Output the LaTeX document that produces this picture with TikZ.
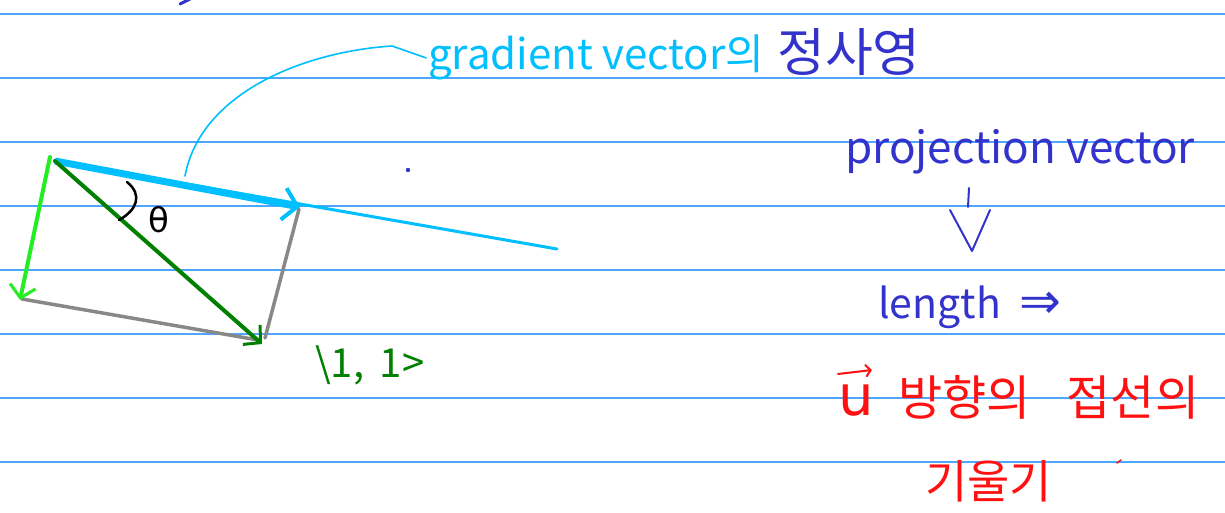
\documentclass[tikz,border=0pt]{standalone}
\usepackage{fontspec}
\setmainfont{Noto Sans CJK KR}
\newfontfamily\dvs{DejaVu Sans}
\usetikzlibrary{arrows.meta}
\definecolor{ruleblue}{HTML}{4DA6FF}
\definecolor{skyc}{HTML}{00BFFF}
\definecolor{lgreen}{HTML}{22EE22}
\definecolor{dgreen}{HTML}{008000}
\definecolor{vgray}{HTML}{888888}
\definecolor{inkblue}{HTML}{3333CC}
\definecolor{inkred}{HTML}{FF1111}
\tikzset{
  ruleline/.style={ruleblue, line width=1.4pt},
  vecline/.style={line width=4pt, line cap=round},
  barb/.style={-{Straight Barb[length=12pt,width=26pt,line width=3pt]}},
  hand/.style={inner sep=0pt, anchor=base west},
}
\begin{document}
\begin{tikzpicture}[x=1pt,y=-1pt]
\useasboundingbox (0,0) rectangle (1225,513);
\fill[white] (0,0) rectangle (1225,513);
\foreach \y in {14,78,...,462} \draw[ruleline] (0,\y) -- (1225,\y);

% points
\coordinate (A) at (55,161);
\coordinate (Ag) at (50,157);
\coordinate (B) at (300,207);
\coordinate (E) at (557,249);
\coordinate (G) at (20,300);
\coordinate (D) at (262,344);
\coordinate (Gb) at (22,299);
\coordinate (Db) at (258,340);
\coordinate (Bg) at (299,209);
\coordinate (Dg) at (265,338);

% gray sides
\draw[vgray, vecline, line width=3.5pt] (Gb) -- (Db);
\draw[vgray, vecline, line width=3.5pt] (Bg) -- (Dg);
% cyan line and projection
\draw[skyc, line width=3pt, line cap=round] (A) -- (E);
\draw[skyc, line width=7pt, -{Straight Barb[length=14pt,width=32pt,line width=4pt]}] (A) -- (B);
% green vectors
\draw[lgreen, vecline, barb] (Ag) -- (G);
\draw[dgreen, vecline, barb] (A) -- (D);

% angle
\draw[black, line width=2.5pt, line cap=round] (127,182) .. controls (143,195) and (137,210) .. (119,220);
\node[hand, font=\dvs\fontsize{34}{34}\selectfont] (th) at (148,232) {θ};

% callout
\node[hand, skyc, font=\fontsize{42}{42}\selectfont] (grad) at (428,70) {gradient vector의};
\node[hand, inkblue, font=\fontsize{52}{52}\selectfont] (jsy) at (777,72) {정사영};
\coordinate (C0) at (185,176);
\draw[skyc, line width=1.6pt, line cap=round] (C0) .. controls (200,95) and (300,52) .. (392,46) -- ([xshift=-2pt]grad.west);

% green label
\node[hand, dgreen, font=\fontsize{40}{40}\selectfont] (uv) at (315,377) {\textbackslash1,\, 1>};

% right side notes
\node[hand, inkblue, font=\fontsize{44}{44}\selectfont] (proj) at (845,164) {projection vector};
\coordinate (P1) at (969,188);
\coordinate (P1b) at (968,207);
\coordinate (P2) at (972,251);
\draw[inkblue, line width=2pt, line cap=round] (P1) -- (P1b);
\draw[inkblue, line width=2pt, line cap=round, line join=round] (950,210) -- (P2) -- (990,210);
\node[hand, inkblue, font=\fontsize{41}{41}\selectfont] (len) at (878,318) {length\hspace{18pt}{\dvs\fontsize{50}{50}\selectfont ⇒}};

\node[hand, inkred, font=\dvs\fontsize{56}{56}\selectfont] (uu) at (838,415) {u};
\draw[inkred, line width=2pt, line cap=round, -{Straight Barb[length=5pt,width=12pt]}] ([yshift=41pt]uu.base west) -- ([xshift=-2pt,yshift=45pt]uu.base east);
\node[hand, inkred, font=\fontsize{48}{48}\selectfont] (dir) at (898,415) {방향의\hspace{36pt}접선의};
\node[hand, inkred, font=\fontsize{46}{46}\selectfont] (slope) at (925,498) {기울기};

% stray marks
\fill[inkblue] (408,170) circle (2.2pt);
\draw[inkblue, line width=3pt, line cap=round] (180,4) -- (192,-2);
\draw[inkred, line width=1.5pt, line cap=round] (1117,463) -- (1121,460);
\end{tikzpicture}
\end{document}
